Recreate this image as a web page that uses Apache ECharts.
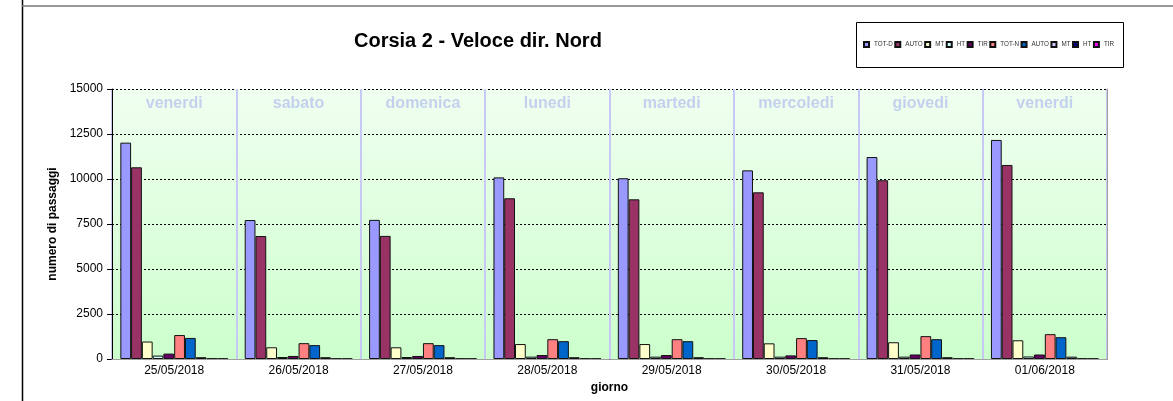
<!DOCTYPE html>
<html>
<head>
<meta charset="utf-8">
<script src="https://cdn.jsdelivr.net/npm/echarts@6/dist/echarts.min.js"></script>
<style>
  html, body { margin: 0; padding: 0; background: #ffffff; }
  #chart { width: 1173px; height: 401px; }
</style>
</head>
<body>
<div id="chart"></div>
<script>
// Days of the survey and their weekday names
const dates = ['25/05/2018', '26/05/2018', '27/05/2018', '28/05/2018', '29/05/2018', '30/05/2018', '31/05/2018', '01/06/2018'];
const dayNames = ['venerdi', 'sabato', 'domenica', 'lunedi', 'martedi', 'mercoledi', 'giovedi', 'venerdi'];

// Day-time counts (D)
const totD  = [12020, 7720, 7730, 10090, 10040, 10480, 11220, 12170];
const autoD = [10650, 6830, 6840, 8930, 8870, 9260, 9930, 10780];
const mtD   = [970, 650, 650, 830, 830, 870, 930, 1040];
const htD   = [190, 110, 110, 130, 130, 130, 130, 140];
const tirD  = [300, 170, 170, 220, 220, 200, 250, 250];

// Night-time counts (N)
const totN  = [1330, 880, 880, 1100, 1100, 1160, 1270, 1380];
const autoN = [1170, 770, 770, 990, 990, 1050, 1100, 1210];
const mtN   = [100, 100, 100, 100, 100, 100, 100, 130];
const htN   = [25, 20, 20, 20, 20, 20, 20, 25];
const tirN  = [20, 15, 15, 15, 15, 15, 20, 15];

const yTicks = { min: 0, max: 15000, step: 2500 };

const seriesDefs = [
  { name: 'TOT-D',  data: totD,  color: '#9999FF' },
  { name: 'AUTO-D', data: autoD, color: '#993366' },
  { name: 'MT-D',   data: mtD,   color: '#FFFFCC' },
  { name: 'HT-D',   data: htD,   color: '#CCFFFF' },
  { name: 'TIR-D',  data: tirD,  color: '#660066' },
  { name: 'TOT-N',  data: totN,  color: '#FF8080' },
  { name: 'AUTO-N', data: autoN, color: '#0066CC' },
  { name: 'MT-N',   data: mtN,   color: '#CCCCFF' },
  { name: 'HT-N',   data: htN,   color: '#000080' },
  { name: 'TIR-N',  data: tirN,  color: '#FF00FF' }
];

const FONT = '"Liberation Sans", Arial, sans-serif';
const chart = echarts.init(document.getElementById('chart'), null, { renderer: 'canvas' });

chart.setOption({
  animation: false,
  backgroundColor: '#ffffff',
  textStyle: { fontFamily: FONT },
  title: {
    text: 'Corsia 2 - Veloce dir. Nord',
    left: 354, top: 31, padding: 0,
    textStyle: { fontFamily: FONT, fontSize: 20, fontWeight: 'bold', color: '#000' }
  },
  legend: {
    left: 863, top: 41, padding: 0,
    itemWidth: 5, itemHeight: 5, itemGap: 1.5,
    icon: 'rect',
    data: seriesDefs.map(s => s.name),
    formatter: n => n.startsWith('TOT') ? n : n.split('-')[0],
    textStyle: { fontFamily: FONT, fontSize: 6.3, color: '#333' }
  },
  grid: {
    left: 112, top: 89, width: 995, height: 270,
    show: true, borderWidth: 0,
    backgroundColor: new echarts.graphic.LinearGradient(0, 0, 0, 1, [
      { offset: 0, color: '#F0FFF0' },
      { offset: 1, color: '#CCFFCC' }
    ])
  },
  xAxis: [
    {
      type: 'category', position: 'bottom', data: dates,
      axisLine: { lineStyle: { color: '#000', width: 1 } },
      axisTick: { length: 4, lineStyle: { color: '#000' } },
      axisLabel: { interval: 0, margin: 6, fontSize: 12, color: '#000', fontFamily: FONT },
      splitLine: { show: true, interval: 0, lineStyle: { color: '#C8C8F6', width: 2 } },
      name: 'giorno', nameLocation: 'middle', nameGap: 21,
      nameTextStyle: { fontFamily: FONT, fontSize: 12, fontWeight: 'bold', color: '#000' }
    },
    {
      type: 'category', position: 'top', data: dayNames, z: 5,
      axisLine: { lineStyle: { color: '#A0A0A0', width: 1 } },
      axisTick: { show: false },
      axisLabel: { inside: true, interval: 0, margin: 7, fontSize: 16, fontWeight: 'bold', color: '#C3D1EE', fontFamily: FONT },
      splitLine: { show: false }
    }
  ],
  yAxis: [
    {
      type: 'value', min: yTicks.min, max: yTicks.max, interval: yTicks.step,
      axisLine: { show: true, lineStyle: { color: '#000', width: 1 } },
      axisTick: { show: true, length: 5, lineStyle: { color: '#000' } },
      axisLabel: { margin: 9, fontSize: 12, color: '#000', fontFamily: FONT, formatter: v => String(v) },
      splitLine: { show: true, lineStyle: { color: '#000', width: 1, type: [2, 2] } },
      name: 'numero di passaggi', nameLocation: 'middle', nameGap: 51,
      nameTextStyle: { fontFamily: FONT, fontSize: 12, fontWeight: 'bold', color: '#000' }
    },
    {
      type: 'value', position: 'right', min: yTicks.min, max: yTicks.max, interval: yTicks.step, z: 5,
      axisLine: { show: true, lineStyle: { color: '#A0A0A0', width: 1 } },
      axisTick: { show: false }, axisLabel: { show: false }, splitLine: { show: false }
    }
  ],
  series: seriesDefs.map(s => ({
    name: s.name,
    type: 'bar',
    data: s.data,
    barGap: '0%',
    barCategoryGap: '13.4%',
    itemStyle: { color: s.color, borderColor: '#111', borderWidth: 1 },
    emphasis: { disabled: true }
  })),
  graphic: [
    // outer frame: left edge and top edge
    { type: 'line', z: 100, shape: { x1: 22.5, y1: 0, x2: 22.5, y2: 401 }, style: { stroke: '#000', lineWidth: 1.5 } },
    { type: 'line', z: 100, shape: { x1: 22, y1: 6, x2: 1173, y2: 6 }, style: { stroke: '#777', lineWidth: 1.5 } },
    // legend box
    { type: 'rect', z: 100, shape: { x: 856.5, y: 22.5, width: 267, height: 45 }, style: { fill: 'none', stroke: '#000', lineWidth: 1 } }
  ]
});
</script>
</body>
</html>
